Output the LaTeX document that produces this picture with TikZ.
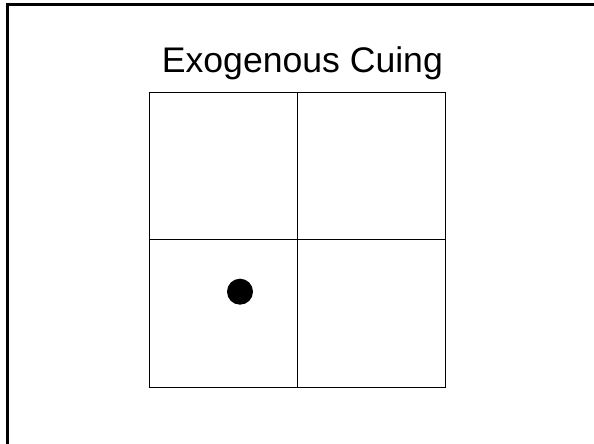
\documentclass[tikz,border=0pt]{standalone}
\usepackage{fontspec}
\setmainfont{Liberation Sans}
\usetikzlibrary{positioning}

\begin{document}
\begin{tikzpicture}[
    x=1pt, y=1pt,
    node distance=0pt,
    cell/.style   ={rectangle, draw, line width=0.8pt,
                    minimum width=148pt, minimum height=147.5pt,
                    inner sep=0pt, outer sep=0pt},
    cue/.style    ={circle, fill=black, minimum size=26pt, inner sep=0pt},
    heading/.style={font=\fontsize{35.6}{40}\selectfont, inner sep=0pt, anchor=base},
    frame/.style  ={line width=2.5pt}
]
\useasboundingbox (0,0) rectangle (594,444);
\draw[frame] (7.5,-20) rectangle (620,439.5);

\node[heading]                 (heading)     at (302.4,371.3) {Exogenous Cuing};
\node[cell]                    (topleft)     at (223,278.25)  {};
\node[cell, right=of topleft]  (topright)    {};
\node[cell, below=of topleft]  (bottomleft)  {};
\node[cell, below=of topright] (bottomright) {};

\node[cue] (cue) at (240,152.3) {};
\end{tikzpicture}
\end{document}
